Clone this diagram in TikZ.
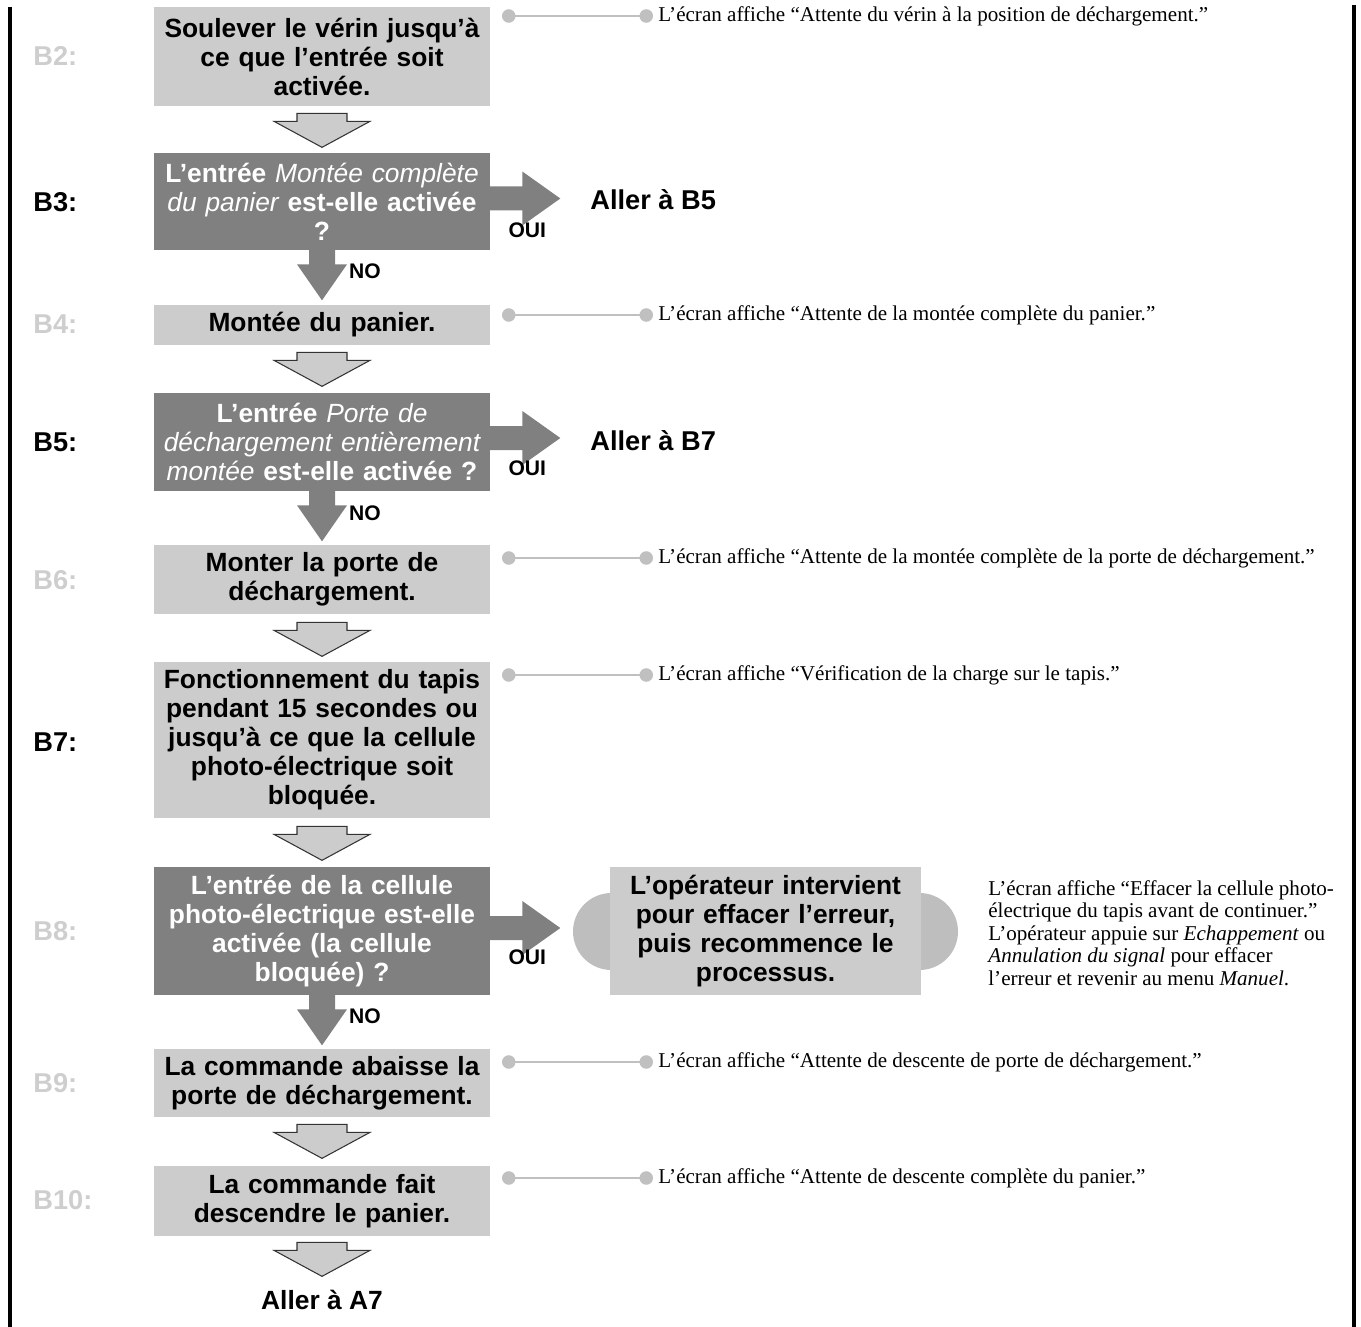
\documentclass[tikz,border=0pt]{standalone}
\usepackage{fontspec}
\setmainfont{Liberation Serif}
\newfontfamily\flowsans{Liberation Sans}
\usetikzlibrary{arrows.meta,positioning,calc}
\definecolor{boxlight}{RGB}{204,204,204}
\definecolor{boxdark}{RGB}{128,128,128}
\definecolor{capgray}{RGB}{190,190,190}
\definecolor{leadgray}{RGB}{192,192,192}
\definecolor{tagpale}{RGB}{206,206,206}
\newcommand\lit[1]{{\mdseries\itshape #1}}
\tikzset{
    stepbox/.style={
        fill=boxlight,minimum width=6.72cm,text width=6.6cm,
        align=center,inner sep=0pt,
        font=\flowsans\bfseries\fontsize{15}{16.5}\selectfont
    },
    askbox/.style={stepbox,fill=boxdark,text=white},
    tag/.style={
        anchor=west,inner sep=0pt,text=#1,
        font=\flowsans\bfseries\fontsize{15.5}{16.5}\selectfont
    },
    tag/.default=black,
    answer/.style={inner sep=0pt,font=\flowsans\bfseries\fontsize{12}{13}\selectfont},
    note/.style={
        anchor=west,inner xsep=2.8pt,inner ysep=0pt,align=left,
        font=\fontsize{12}{12.8}\selectfont
    },
    lead/.style={
        draw=leadgray,line width=1.2pt,
        {Circle[length=0.27cm]}-{Circle[length=0.27cm]}
    },
    hollow/.style={fill=boxlight,draw=black!80,line width=0.6pt},
    downarrow/.pic={
        \draw[hollow] (-25,0) -- (25,0) -- (25,8) -- (48,8) -- (0,34)
            -- (-48,8) -- (-25,8) -- cycle;
    },
    yesarrow/.pic={
        \fill[boxdark] (-2,-12) -- (32,-12) -- (32,-27) -- (70,0)
            -- (32,27) -- (32,12) -- (-2,12) -- cycle;
    },
    noarrow/.pic={
        \fill[boxdark] (-13,-1) -- (13,-1) -- (13,14) -- (25,14) -- (0,50)
            -- (-25,14) -- (-13,14) -- cycle;
    }
}

\begin{document}
\begin{tikzpicture}[x=0.02cm,y=-0.02cm]
\useasboundingbox (0,0) rectangle (1361,1327);

% frame
\draw[line width=0.08cm] (10,7) -- (10,1327);
\draw[line width=0.08cm] (1354,5) -- (1354,1327);

% step boxes
\node[stepbox,minimum height=1.98cm] (b2) at (322,56.5)
    {Soulever le vérin jusqu’à\\ ce que l’entrée soit\\ activée.};
\node[askbox,minimum height=1.94cm] (b3) at (322,201.5)
    {L’entrée \lit{Montée complète}\\ \lit{du panier} est-elle activée\\ ?};
\node[stepbox,minimum height=0.8cm] (b4) at (322,325)
    {Montée du panier.};
\node[askbox,minimum height=1.96cm] (b5) at (322,442)
    {L’entrée \lit{Porte de}\\ \lit{déchargement entièrement}\\ \lit{montée} est-elle activée ?};
\node[stepbox,minimum height=1.38cm] (b6) at (322,579.5)
    {Monter la porte de\\ déchargement.};
\node[stepbox,minimum height=3.12cm] (b7) at (322,740)
    {Fonctionnement du tapis\\ pendant 15 secondes ou\\ jusqu’à ce que la cellule\\ photo-électrique soit\\ bloquée.};
\node[askbox,minimum height=2.56cm] (b8) at (322,931)
    {L’entrée de la cellule\\ photo-électrique est-elle\\ activée (la cellule\\ bloquée) ?};
\node[stepbox,minimum height=1.36cm] (b9) at (322,1083)
    {La commande abaisse la\\ porte de déchargement.};
\node[stepbox,minimum height=1.4cm] (b10) at (322,1201)
    {La commande fait\\ descendre le panier.};
\node[font=\flowsans\bfseries\fontsize{15}{16.5}\selectfont] (toA7) at (322,1300)
    {Aller à A7};

% step tags
\node[tag=tagpale] (t2) at (33,56) {B2:};
\node[tag] (t3) at (33,202) {B3:};
\node[tag=tagpale] (t4) at (33,324) {B4:};
\node[tag] (t5) at (33,442) {B5:};
\node[tag=tagpale] (t6) at (33,580) {B6:};
\node[tag] (t7) at (33,742) {B7:};
\node[tag=tagpale] (t8) at (33,931) {B8:};
\node[tag=tagpale] (t9) at (33,1083) {B9:};
\node[tag=tagpale] (t10) at (33,1200) {B10:};

% flow arrows
\pic at ($(b2.south)+(0,7)$) {downarrow};
\pic at ($(b4.south)+(0,7)$) {downarrow};
\pic at ($(b6.south)+(0,8)$) {downarrow};
\pic at ($(b7.south)+(0,8)$) {downarrow};
\pic at ($(b9.south)+(0,7)$) {downarrow};
\pic at ($(b10.south)+(0,6)$) {downarrow};

% yes / no branches
\pic at ($(b3.east)+(0,-3)$) {yesarrow};
\pic at ($(b5.east)+(0,-4)$) {yesarrow};
\pic at ($(b8.east)+(0,-3)$) {yesarrow};
\pic at (b3.south) {noarrow};
\pic at (b5.south) {noarrow};
\pic at (b8.south) {noarrow};

\node[answer] (y3) at ($(b3.east)+(37,29)$) {OUI};
\node[answer] (y5) at ($(b5.east)+(37,26)$) {OUI};
\node[answer] (y8) at ($(b8.east)+(37,26)$) {OUI};
\node[answer] (o3) at ($(b3.south)+(43,21)$) {NO};
\node[answer] (o5) at ($(b5.south)+(43,22)$) {NO};
\node[answer] (o8) at ($(b8.south)+(43,21)$) {NO};

\node[tag] (toB5) at (590,200) {Aller à B5};
\node[tag] (toB7) at (590,441) {Aller à B7};

% operator box
\fill[capgray,rounded corners=0.77cm] (573,893) rectangle (958,970);
\node[stepbox,fill=boxlight,minimum width=6.22cm,text width=6.1cm,minimum height=2.56cm]
    (fix) at (765.5,931)
    {L’opérateur intervient\\ pour effacer l’erreur,\\ puis recommence le\\ processus.};

% screen messages
\node[note] (n2) at (653,16) {L’écran affiche “Attente du vérin à la position de déchargement.”};
\node[note] (n4) at (653,315) {L’écran affiche “Attente de la montée complète du panier.”};
\node[note] (n6) at (653,558) {L’écran affiche “Attente de la montée complète de la porte de déchargement.”};
\node[note] (n7) at (653,675) {L’écran affiche “Vérification de la charge sur le tapis.”};
\node[note] (n9) at (653,1062) {L’écran affiche “Attente de descente de porte de déchargement.”};
\node[note] (n10) at (653,1178) {L’écran affiche “Attente de descente complète du panier.”};
\node[note,anchor=north west,inner xsep=0pt] (n8) at (988,880)
    {L’écran affiche “Effacer la cellule photo-\\
     électrique du tapis avant de continuer.”\\
     L’opérateur appuie sur \textit{Echappement} ou\\
     \textit{Annulation du signal} pour effacer\\
     l’erreur et revenir au menu \textit{Manuel}.};

\coordinate (s2) at (502,16);
\coordinate (s4) at (502,315);
\coordinate (s6) at (502,558);
\coordinate (s7) at (502,675);
\coordinate (s9) at (502,1062);
\coordinate (s10) at (502,1178);
\draw[lead] (s2) -- (n2.west);
\draw[lead] (s4) -- (n4.west);
\draw[lead] (s6) -- (n6.west);
\draw[lead] (s7) -- (n7.west);
\draw[lead] (s9) -- (n9.west);
\draw[lead] (s10) -- (n10.west);

\end{tikzpicture}
\end{document}
